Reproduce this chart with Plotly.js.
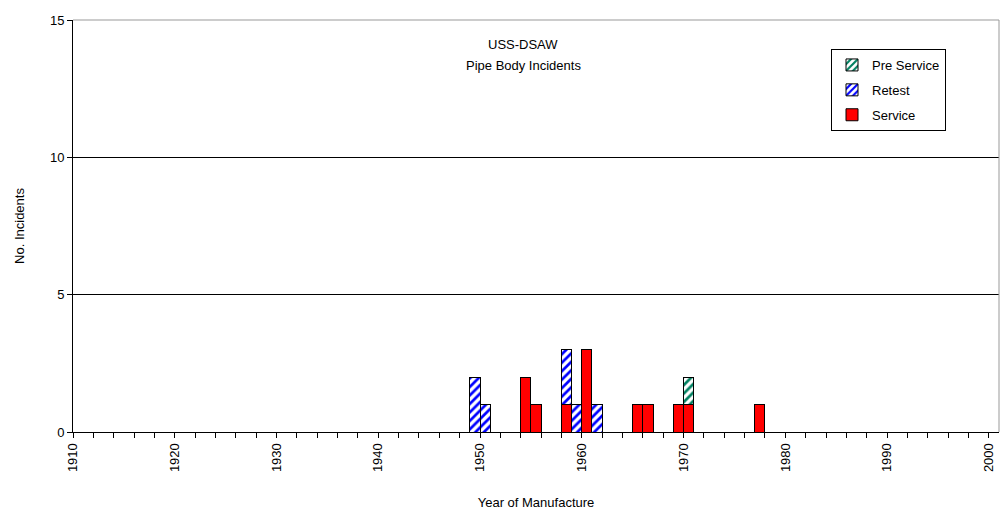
<!DOCTYPE html>
<html>
<head>
<meta charset="utf-8">
<script src="https://cdn.plot.ly/plotly-3.0.1.min.js"></script>
<style>html,body{margin:0;padding:0;background:#fff;}#chart{width:1003px;height:521px;}</style>
</head>
<body>
<div id="chart"></div>
<script>
// Years of manufacture with incidents
const serviceYears = [1954, 1955, 1958, 1960, 1965, 1966, 1969, 1970, 1977];
const serviceCounts = [2, 1, 1, 3, 1, 1, 1, 1, 1];
const retestYears = [1949, 1950, 1958, 1959, 1961];
const retestCounts = [2, 1, 2, 1, 1];
const preServiceYears = [1970];
const preServiceCounts = [1];
const titleLines = ['USS-DSAW', 'Pipe Body Incidents'];

const font = {family: 'Liberation Sans, Arial, sans-serif', size: 13, color: '#000'};
// each category occupies [year, year+1]
const shift = ys => ys.map(y => y + 0.5);

const traces = [
  {type: 'bar', name: 'Service', legendgroup: 's', legendrank: 3, x: shift(serviceYears), y: serviceCounts, width: 1,
   marker: {color: '#ff0000', line: {color: '#000', width: 1}}},
  {type: 'bar', name: 'Retest', legendgroup: 'r', legendrank: 2, x: shift(retestYears), y: retestCounts, width: 1,
   marker: {color: '#ffffff', line: {color: '#000', width: 1},
            pattern: {shape: '/', fgcolor: '#0000ff', bgcolor: '#ffffff', size: 6, solidity: 0.45}}},
  {type: 'bar', name: 'Pre Service', legendgroup: 'p', legendrank: 1, x: shift(preServiceYears), y: preServiceCounts, width: 1,
   marker: {color: '#ffffff', line: {color: '#000', width: 1},
            pattern: {shape: '/', fgcolor: '#008060', bgcolor: '#ffffff', size: 6, solidity: 0.45}}}
];

const plotTop = 20, plotBottom = 432, plotLeft = 73, plotRight = 999;
const py = pix => 1 - (pix - plotTop) / (plotBottom - plotTop);
const px = pix => (pix - plotLeft) / (plotRight - plotLeft);

const layout = {
  width: 1003, height: 521,
  margin: {l: plotLeft, r: 1003 - plotRight, t: plotTop, b: 521 - plotBottom},
  paper_bgcolor: '#fff', plot_bgcolor: '#fff',
  font: font,
  barmode: 'stack', bargap: 0,
  showlegend: true,
  legend: {x: px(831), y: py(49), xanchor: 'left', yanchor: 'top', traceorder: 'grouped', tracegroupgap: 5,
           bordercolor: '#000', borderwidth: 1, bgcolor: '#fff', itemwidth: 30,
           font: {family: font.family, size: 13, color: '#000'}},
  xaxis: {range: [1910, 2001], tick0: 1910, dtick: 10, ticks: 'outside', ticklen: 5, tickcolor: '#000',
          tickangle: -90, showgrid: false, zeroline: false, showline: true, linecolor: '#000', linewidth: 1,
          minor: {dtick: 2, tick0: 1910, ticks: 'outside', ticklen: 5, tickcolor: '#000', showgrid: false},
          tickfont: font,
          title: {text: 'Year of Manufacture', font: font, standoff: 26}},
  yaxis: {range: [0, 15], dtick: 5, ticks: 'outside', ticklen: 5, tickcolor: '#000',
          showgrid: true, gridcolor: '#000', gridwidth: 1, zeroline: false,
          showline: true, linecolor: '#000', linewidth: 1, tickfont: font,
          title: {text: 'No. Incidents', font: font, standoff: 22}},
  shapes: [
    {type: 'line', xref: 'paper', yref: 'paper', x0: 0, x1: 1, y0: 1, y1: 1, line: {color: '#999', width: 1}, layer: 'above'},
    {type: 'line', xref: 'paper', yref: 'paper', x0: 1, x1: 1, y0: 0, y1: 1, line: {color: '#999', width: 1}, layer: 'above'}
  ],
  annotations: [
    {xref: 'paper', yref: 'paper', x: px(523), y: py(45), xanchor: 'center', yanchor: 'middle', showarrow: false,
     text: titleLines[0], font: font},
    {xref: 'paper', yref: 'paper', x: px(523), y: py(66), xanchor: 'center', yanchor: 'middle', showarrow: false,
     text: titleLines[1], font: font}
  ]
};

Plotly.newPlot('chart', traces, layout, {displayModeBar: false, staticPlot: true});
</script>
</body>
</html>
